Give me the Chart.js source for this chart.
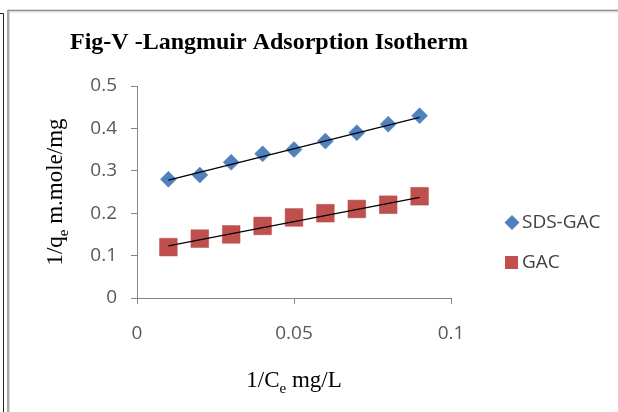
<!DOCTYPE html>
<html>
<head>
<meta charset="utf-8">
<script src="https://cdn.jsdelivr.net/npm/chart.js@4/dist/chart.umd.min.js"></script>
<style>
  body { margin: 0; background: #fff; }
  #wrap { width: 618px; height: 412px; }
</style>
</head>
<body>
<div id="wrap"><canvas id="iso" width="618" height="412"></canvas></div>
<script>
// 1/Ce values and 1/qe for each adsorbent
var xValues = [0.01, 0.02, 0.03, 0.04, 0.05, 0.06, 0.07, 0.08, 0.09];
var sdsGac = [0.28, 0.29, 0.32, 0.34, 0.35, 0.37, 0.39, 0.41, 0.43];
var gac = [0.12, 0.14, 0.15, 0.17, 0.19, 0.20, 0.21, 0.22, 0.24];

// trendline end points
var trendX = [0.01, 0.09];
var sdsTrend = [0.278, 0.426];
var gacTrend = [0.123, 0.2375];

var seriesNames = ['SDS-GAC', 'GAC'];

function pts(xs, ys) {
    return xs.map(function (x, i) { return { x: x, y: ys[i] }; });
}

var axisGray = '#868686';
var tickFont = "'Open Sans', 'Liberation Sans', sans-serif";
var serif = "'Liberation Serif', 'DejaVu Serif', serif";

// text with subscripts: parts = [[text, isSub], ...]
function drawParts(ctx, parts, size, cx, cy) {
    var subSize = Math.round(size * 0.65);
    var total = 0;
    parts.forEach(function (p) {
        ctx.font = (p[1] ? subSize : size) + 'px ' + serif;
        total += ctx.measureText(p[0]).width;
    });
    var x = cx - total / 2;
    ctx.textAlign = 'left';
    ctx.textBaseline = 'alphabetic';
    parts.forEach(function (p) {
        ctx.font = (p[1] ? subSize : size) + 'px ' + serif;
        ctx.fillText(p[0], x, cy + (p[1] ? size * 0.25 : 0));
        x += ctx.measureText(p[0]).width;
    });
}

var decor = {
    id: 'decor',
    beforeDraw: function (chart) {
        var ctx = chart.ctx;
        ctx.save();
        ctx.fillStyle = '#fff';
        ctx.fillRect(0, 0, chart.width, chart.height);
        // outer frame bits
        ctx.strokeStyle = '#222';
        ctx.lineWidth = 1;
        ctx.beginPath();
        ctx.moveTo(0, 13.5); ctx.lineTo(3.5, 13.5); ctx.lineTo(3.5, 412);
        ctx.stroke();
        ctx.strokeStyle = '#8c8c8c';
        ctx.lineWidth = 1.5;
        ctx.beginPath();
        ctx.moveTo(8, 412); ctx.lineTo(8, 10.5); ctx.lineTo(618, 10.5);
        ctx.stroke();
        ctx.strokeStyle = '#d9d9d9';
        ctx.lineWidth = 1;
        ctx.beginPath();
        ctx.moveTo(9.5, 412); ctx.lineTo(9.5, 12); ctx.lineTo(618, 12);
        ctx.stroke();
        ctx.restore();
    },
    afterDraw: function (chart) {
        var ctx = chart.ctx;
        ctx.save();
        ctx.fillStyle = '#000';
        // title
        ctx.font = 'bold 24px ' + serif;
        ctx.textAlign = 'center';
        ctx.textBaseline = 'middle';
        ctx.fillText('Fig-V -Langmuir Adsorption Isotherm', 269, 43);
        // axis titles
        drawParts(ctx, [['1/C', false], ['e', true], [' mg/L', false]], 23, 294, 387);
        ctx.save();
        ctx.translate(62, 192);
        ctx.rotate(-Math.PI / 2);
        drawParts(ctx, [['1/q', false], ['e', true], [' m.mole/mg', false]], 23, 0, 0);
        ctx.restore();
        // legend
        ctx.font = '19px ' + tickFont;
        ctx.fillStyle = '#404040';
        ctx.textAlign = 'left';
        ctx.textBaseline = 'middle';
        ctx.fillText(seriesNames[0], 522, 223);
        ctx.fillText(seriesNames[1], 522, 263);
        ctx.fillStyle = '#4F81BD';
        ctx.beginPath();
        ctx.moveTo(512, 215); ctx.lineTo(519.5, 222.5); ctx.lineTo(512, 230); ctx.lineTo(504.5, 222.5);
        ctx.closePath();
        ctx.fill();
        ctx.fillStyle = '#C0504D';
        ctx.fillRect(505, 256, 13, 13);
        ctx.restore();
    }
};

new Chart(document.getElementById('iso'), {
    type: 'scatter',
    data: {
        datasets: [
            {
                type: 'line',
                data: pts(trendX, sdsTrend),
                borderColor: '#000',
                borderWidth: 1.2,
                pointRadius: 0,
                order: 0
            },
            {
                type: 'line',
                data: pts(trendX, gacTrend),
                borderColor: '#000',
                borderWidth: 1.2,
                pointRadius: 0,
                order: 0
            },
            {
                label: seriesNames[0],
                data: pts(xValues, sdsGac),
                pointStyle: 'rectRot',
                pointRadius: 8,
                backgroundColor: '#4F81BD',
                borderColor: '#4A7DBA',
                borderWidth: 0.5,
                order: 1
            },
            {
                label: seriesNames[1],
                data: pts(xValues, gac),
                pointStyle: 'rect',
                pointRadius: 12.5,
                backgroundColor: '#C0504D',
                borderColor: '#B7474A',
                borderWidth: 0.5,
                order: 1
            }
        ]
    },
    options: {
        responsive: false,
        animation: false,
        events: [],
        layout: { padding: { left: 0, right: 167, top: 86, bottom: 0 } },
        plugins: {
            legend: { display: false },
            tooltip: { enabled: false }
        },
        scales: {
            x: {
                type: 'linear',
                min: 0,
                max: 0.1,
                afterFit: function (s) { s.height = 114; },
                border: { color: axisGray, width: 1 },
                grid: { drawOnChartArea: false, tickLength: 6, color: axisGray },
                ticks: {
                    stepSize: 0.05,
                    padding: 18,
                    color: '#595959',
                    font: { family: tickFont, size: 19 },
                    callback: function (v) { return String(Math.round(v * 100) / 100); }
                }
            },
            y: {
                min: 0,
                max: 0.5,
                afterFit: function (s) { s.width = 137; },
                border: { color: axisGray, width: 1 },
                grid: { drawOnChartArea: false, tickLength: 6, color: axisGray },
                ticks: {
                    stepSize: 0.1,
                    padding: 14,
                    color: '#595959',
                    font: { family: tickFont, size: 19 },
                    callback: function (v) { return String(Math.round(v * 10) / 10); }
                }
            }
        }
    },
    plugins: [decor]
});
</script>
</body>
</html>
